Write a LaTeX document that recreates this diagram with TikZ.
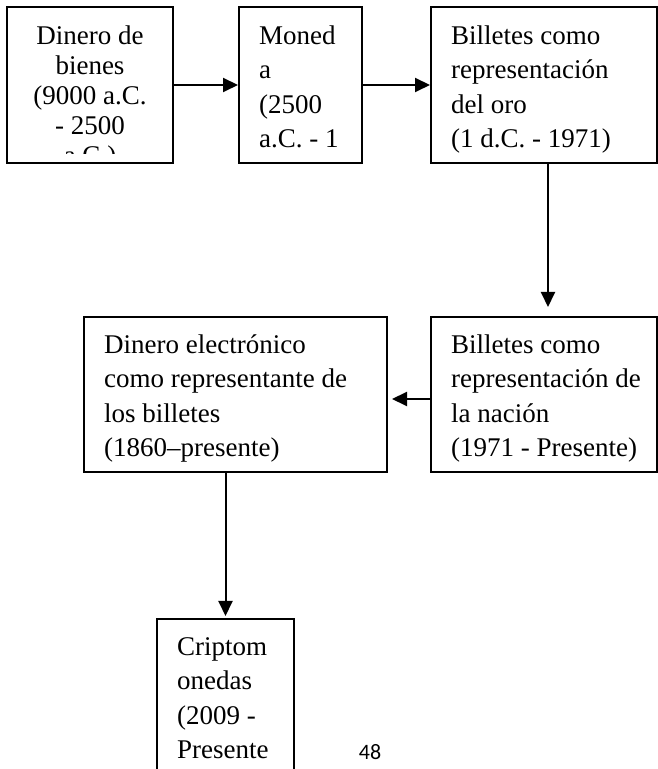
\documentclass[tikz,border=0pt]{standalone}
\usepackage{fontspec}
\setmainfont{Liberation Serif}
\newfontfamily\pagefont{Carlito}
\usetikzlibrary{arrows.meta}

\tikzset{
  box/.style={draw, line width=2pt, rectangle, inner sep=0pt},
  txt/.style={inner sep=0pt, align=left, font=\fontsize{27}{34.5}\selectfont},
  arr/.style={line width=2pt, -{Triangle[length=15pt,width=14pt]}}
}

\begin{document}
\begin{tikzpicture}[x=1pt,y=1pt]
\useasboundingbox (0,0) rectangle (658,769);
\clip (0,0) rectangle (658,769);

% boxes
\node[box, minimum width=166pt, minimum height=156pt] (b1) at (90,684) {};
\node[box, minimum width=123pt, minimum height=156pt] (b2) at (300.5,684) {};
\node[box, minimum width=226pt, minimum height=156pt] (b3) at (544,684) {};
\node[box, minimum width=226pt, minimum height=155pt] (b5) at (544,374.5) {};
\node[box, minimum width=303pt, minimum height=155pt] (b4) at (235.5,374.5) {};
\node[box, minimum width=137pt, minimum height=180pt] (b6) at (225.5,60) {};

% texts
\begin{scope}
\clip ([yshift=10pt]b1.south west) rectangle (b1.north east);
\node[txt, align=center, anchor=north, font=\fontsize{27}{30}\selectfont] (t1)
  at ([yshift=-17pt]b1.north) {\strut Dinero de\\ bienes\\ (9000 a.C.\\ - 2500\\ a.C.)};
\end{scope}
\node[txt, anchor=north west] (t2) at ([xshift=21pt,yshift=-13.85pt]b2.north west)
  {\strut Moned\\ a\\ (2500\\ a.C. - 1};
\node[txt, anchor=north west] (t3) at ([xshift=21pt,yshift=-13.85pt]b3.north west)
  {\strut Billetes como\\ representación\\ del oro\\ (1 d.C. - 1971)};
\node[txt, anchor=north west] (t5) at ([xshift=21pt,yshift=-12.85pt]b5.north west)
  {\strut Billetes como\\ representación de\\ la nación\\ (1971 - Presente)};
\node[txt, anchor=north west] (t4) at ([xshift=21pt,yshift=-12.85pt]b4.north west)
  {\strut Dinero electrónico\\ como representante de\\ los billetes\\ (1860–presente)};
\node[txt, anchor=north west] (t6) at ([xshift=21pt,yshift=-12.85pt]b6.north west)
  {\strut Criptom\\ onedas\\ (2009 -\\ Presente};

% arrows
\draw[arr] (b1) -- (b2);
\draw[arr] (b2) -- (b3);
\draw[arr] ([xshift=4pt]b3.south) -- ([xshift=4pt,yshift=9pt]b5.north);
\draw[arr] ([yshift=-4.5pt]b5.west) -- ([xshift=4pt,yshift=-4.5pt]b4.east);
\draw[arr] (b6.north |- b4.south) -- ([yshift=2pt]b6.north);

\node[font=\pagefont\fontsize{22}{26}\selectfont] (pg) at (370,17) {48};
\end{tikzpicture}
\end{document}
